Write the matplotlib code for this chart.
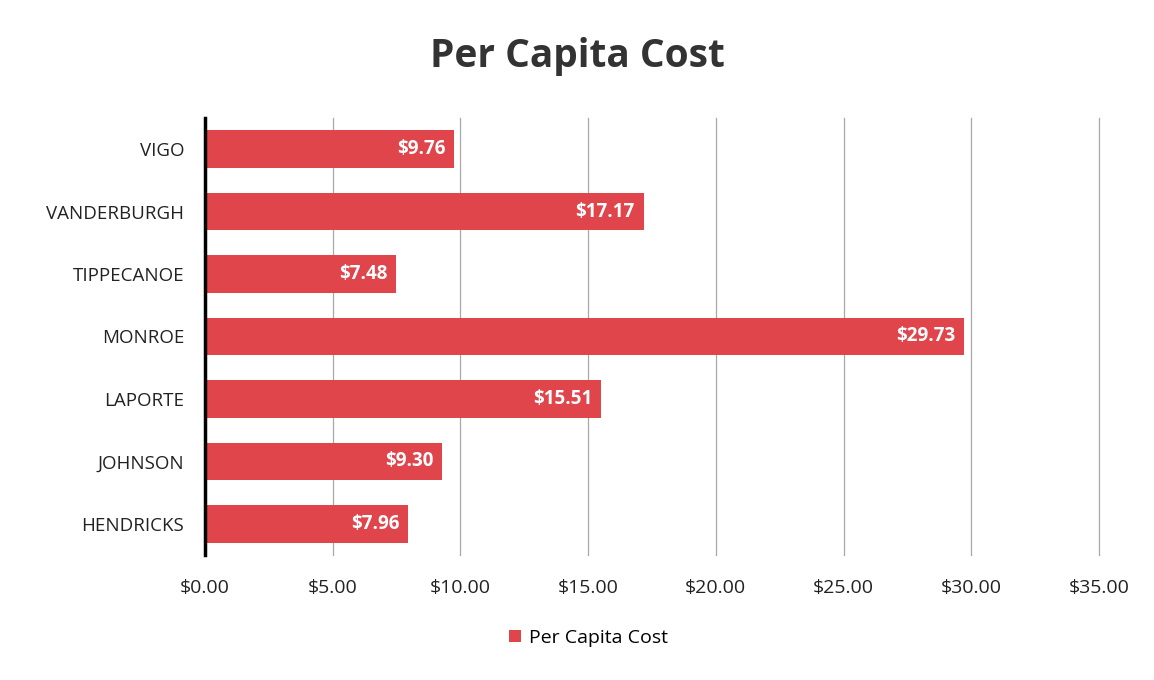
import matplotlib.pyplot as plt

counties = ["HENDRICKS", "JOHNSON", "LAPORTE", "MONROE", "TIPPECANOE", "VANDERBURGH", "VIGO"]
cost = [7.96, 9.30, 15.51, 29.73, 7.48, 17.17, 9.76]
ticks = [0, 5, 10, 15, 20, 25, 30, 35]

plt.rcParams['font.family'] = ['Open Sans', 'DejaVu Sans']

fig = plt.figure(figsize=(11.54, 6.8), dpi=100)
ax = fig.add_axes([0.1776, 0.1838, 0.7747, 0.6427])

bars = ax.barh(range(len(counties)), cost, height=0.6, color='#e0454b',
               label='Per Capita Cost', zorder=3)
for b, v in zip(bars, cost):
    ax.text(b.get_width() - 0.35, b.get_y() + b.get_height() / 2, f"${v:.2f}",
            ha='right', va='center', color='white', fontsize=13.5, fontweight='bold', zorder=4)

ax.set_yticks(range(len(counties)))
ax.set_yticklabels(counties, fontsize=13.5, color='#222222')
ax.set_xticks(ticks)
ax.set_xticklabels([f"${t:.2f}" for t in ticks], fontsize=14, color='#222222')
ax.set_xlim(0, 35)
ax.set_ylim(-0.5, 6.5)
ax.tick_params(axis='x', length=0, pad=17)
ax.tick_params(axis='y', length=0, pad=15)

ax.grid(axis='x', color='#a8a8a8', linewidth=0.9, zorder=0)
for gl in ax.get_xgridlines():
    gl.set_clip_on(False)
for s in ['top', 'right', 'bottom']:
    ax.spines[s].set_visible(False)
ax.spines['left'].set_linewidth(2.5)
ax.spines['left'].set_color('black')
ax.spines['left'].set_zorder(5)

fig.suptitle('Per Capita Cost', y=0.945, fontsize=28, fontweight='bold', color='#333333')
fig.legend(loc='center', bbox_to_anchor=(0.51, 0.062), frameon=False, fontsize=14,
           handlelength=0.6, handleheight=0.6, handletextpad=0.4)

fig.savefig('out.png', dpi=100, facecolor='white')
